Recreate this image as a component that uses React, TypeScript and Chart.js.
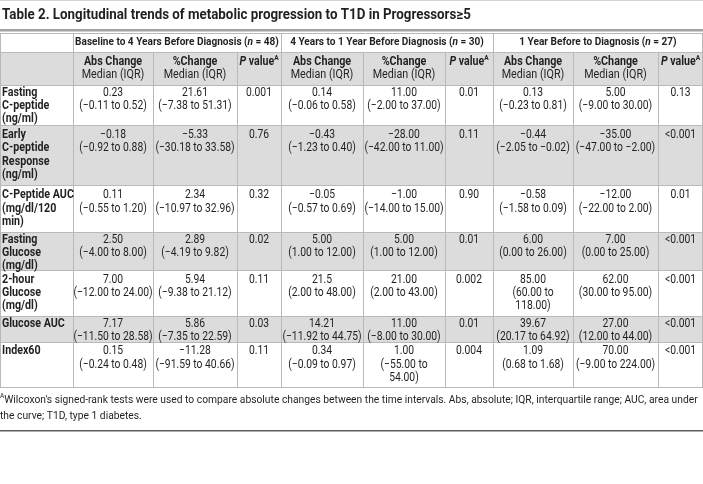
import React, { useEffect, useRef } from "react";
import { Chart, registerables } from "chart.js";

Chart.register(...registerables);

// ---------------- data ----------------
const TITLE = "Table 2. Longitudinal trends of metabolic progression to T1D in Progressors≥5";
const GROUP_TITLES = [
  "Baseline to 4 Years Before Diagnosis",
  "4 Years to 1 Year Before Diagnosis",
  "1 Year Before to Diagnosis",
];
const GROUP_N = [48, 30, 27];
const SUB_HEADERS = ["Abs Change", "%Change", "P value"];
const SUB_NOTE = "Median (IQR)";
const ROW_LABELS = [
  ["Fasting", "C-peptide", "(ng/ml)"],
  ["Early", "C-peptide", "Response", "(ng/ml)"],
  ["C-Peptide AUC", "(mg/dl/120", "min)"],
  ["Fasting", "Glucose", "(mg/dl)"],
  ["2-hour", "Glucose", "(mg/dl)"],
  ["Glucose AUC"],
  ["Index60"],
];

// Baseline to 4 years before diagnosis
const ABS_MED_1 = ["0.23", "-0.18", "0.11", "2.50", "7.00", "7.17", "0.15"];
const ABS_LO_1 = ["-0.11", "-0.92", "-0.55", "-4.00", "-12.00", "-11.50", "-0.24"];
const ABS_HI_1 = ["0.52", "0.88", "1.20", "8.00", "24.00", "28.58", "0.48"];
const PCT_MED_1 = ["21.61", "-5.33", "2.34", "2.89", "5.94", "5.86", "-11.28"];
const PCT_LO_1 = ["-7.38", "-30.18", "-10.97", "-4.19", "-9.38", "-7.35", "-91.59"];
const PCT_HI_1 = ["51.31", "33.58", "32.96", "9.82", "21.12", "22.59", "40.66"];
const P_1 = ["0.001", "0.76", "0.32", "0.02", "0.11", "0.03", "0.11"];

// 4 years to 1 year before diagnosis
const ABS_MED_2 = ["0.14", "-0.43", "-0.05", "5.00", "21.5", "14.21", "0.34"];
const ABS_LO_2 = ["-0.06", "-1.23", "-0.57", "1.00", "2.00", "-11.92", "-0.09"];
const ABS_HI_2 = ["0.58", "0.40", "0.69", "12.00", "48.00", "44.75", "0.97"];
const PCT_MED_2 = ["11.00", "-28.00", "-1.00", "5.00", "21.00", "11.00", "1.00"];
const PCT_LO_2 = ["-2.00", "-42.00", "-14.00", "1.00", "2.00", "-8.00", "-55.00"];
const PCT_HI_2 = ["37.00", "11.00", "15.00", "12.00", "43.00", "30.00", "54.00"];
const P_2 = ["0.01", "0.11", "0.90", "0.01", "0.002", "0.01", "0.004"];

// 1 year before to diagnosis
const ABS_MED_3 = ["0.13", "-0.44", "-0.58", "6.00", "85.00", "39.67", "1.09"];
const ABS_LO_3 = ["-0.23", "-2.05", "-1.58", "0.00", "60.00", "20.17", "0.68"];
const ABS_HI_3 = ["0.81", "-0.02", "0.09", "26.00", "118.00", "64.92", "1.68"];
const PCT_MED_3 = ["5.00", "-35.00", "-12.00", "7.00", "62.00", "27.00", "70.00"];
const PCT_LO_3 = ["-9.00", "-47.00", "-22.00", "0.00", "30.00", "12.00", "-9.00"];
const PCT_HI_3 = ["30.00", "-2.00", "2.00", "25.00", "95.00", "44.00", "224.00"];
const P_3 = ["0.13", "<0.001", "0.01", "<0.001", "<0.001", "<0.001", "<0.001"];

const FOOTNOTE_MARK = "A";
const FOOTNOTE_LINES = [
  "Wilcoxon's signed-rank tests were used to compare absolute changes between the time intervals. Abs, absolute; IQR, interquartile range; AUC, area under",
  "the curve; T1D, type 1 diabetes.",
];

// ---------------- layout ----------------
const W = 703;
const H = 484;
const COL_W = [73, 80, 84, 44, 82, 82, 48, 80, 85, 45];
const ROW_H = [19, 33, 40, 60, 47, 38, 46, 26, 45];
const TABLE_TOP = 33;
const LINE_H = 13.3;
const WRAPPED = [
  [4, 6],
  [6, 4],
];
const FONT = "Roboto";

type Seg = { t: string; bold?: boolean; italic?: boolean; sup?: boolean };

function fontOf(size: number, s: Seg) {
  const sz = s.sup ? size * 0.62 : size;
  return `${s.italic ? "italic " : ""}${s.bold ? "bold " : ""}${sz}px ${FONT}`;
}

function richWidth(ctx: CanvasRenderingContext2D, segs: Seg[], size: number, sx: number) {
  let w = 0;
  for (const s of segs) {
    ctx.font = fontOf(size, s);
    w += ctx.measureText(s.t).width * sx;
  }
  return w;
}

function drawRich(
  ctx: CanvasRenderingContext2D,
  segs: Seg[],
  x: number,
  y: number,
  size: number,
  sx: number,
  align: "left" | "center",
  color: string
) {
  const total = richWidth(ctx, segs, size, sx);
  let cx = align === "center" ? x - total / 2 : x;
  for (const s of segs) {
    ctx.font = fontOf(size, s);
    const w = ctx.measureText(s.t).width * sx;
    ctx.save();
    ctx.translate(cx, y + (s.sup ? -size * 0.32 : 0));
    ctx.scale(sx, 1);
    ctx.fillStyle = color;
    ctx.textAlign = "left";
    ctx.textBaseline = "middle";
    ctx.fillText(s.t, 0, 0);
    ctx.restore();
    cx += w;
  }
}

const fmt = (v: string) => v.replace(/-/g, "\u2212");

function cellLines(row: number, dataCol: number): string[] {
  const g = Math.floor(dataCol / 3);
  const k = dataCol % 3;
  const sets = [
    [ABS_MED_1, ABS_LO_1, ABS_HI_1, PCT_MED_1, PCT_LO_1, PCT_HI_1, P_1],
    [ABS_MED_2, ABS_LO_2, ABS_HI_2, PCT_MED_2, PCT_LO_2, PCT_HI_2, P_2],
    [ABS_MED_3, ABS_LO_3, ABS_HI_3, PCT_MED_3, PCT_LO_3, PCT_HI_3, P_3],
  ][g];
  if (k === 2) return [sets[6][row]];
  const med = sets[k * 3][row];
  const lo = sets[k * 3 + 1][row];
  const hi = sets[k * 3 + 2][row];
  const wrap = WRAPPED.some((c) => c[0] === row && c[1] === dataCol);
  if (wrap) return [fmt(med), `(${fmt(lo)} to`, `${fmt(hi)})`];
  return [fmt(med), `(${fmt(lo)} to ${fmt(hi)})`];
}

const tablePlugin = {
  id: "tableDraw",
  beforeDraw(chart: any) {
    const ctx: CanvasRenderingContext2D = chart.ctx;
    ctx.save();
    ctx.fillStyle = "#ffffff";
    ctx.fillRect(0, 0, chart.width, chart.height);
    ctx.restore();
  },
  afterDraw(chart: any) {
    const ctx: CanvasRenderingContext2D = chart.ctx;
    const xs = chart.scales.x;
    const ys = chart.scales.y;
    const X = (v: number) => xs.getPixelForValue(v);
    const Y = (v: number) => ys.getPixelForValue(v);

    const colEdges = [0];
    COL_W.forEach((w) => colEdges.push(colEdges[colEdges.length - 1] + w));
    const rowEdges = [TABLE_TOP];
    ROW_H.forEach((h) => rowEdges.push(rowEdges[rowEdges.length - 1] + h));
    const tableBottom = rowEdges[rowEdges.length - 1];
    const text = "#231f20";

    ctx.save();
    // faint top line
    ctx.fillStyle = "#d4d4d4";
    ctx.fillRect(X(0), Y(0), X(W) - X(0), 1);

    // title
    drawRich(ctx, [{ t: TITLE, bold: true }], X(2), Y(15.5), 14.5, 0.92, "left", text);

    // thick rule
    ctx.fillStyle = "#a3a3a3";
    ctx.fillRect(X(0), Y(29), X(W) - X(0), 2.5);

    // row fills
    const rowLines = [1, 2];
    for (let r = 0; r < ROW_LABELS.length; r++) {
      let n = ROW_LABELS[r].length;
      for (let c = 0; c < 9; c++) n = Math.max(n, cellLines(r, c).length);
      rowLines.push(n);
    }
    for (let r = 0; r < ROW_H.length; r++) {
      if (r % 2 === 1) {
        ctx.fillStyle = "#dcdcdc";
        ctx.fillRect(X(0), Y(rowEdges[r]), X(W) - X(0), Y(rowEdges[r + 1]) - Y(rowEdges[r]));
      }
    }

    // grid lines
    ctx.strokeStyle = "#b9b9b9";
    ctx.lineWidth = 1;
    ctx.beginPath();
    for (let r = 0; r < rowEdges.length; r++) {
      const y = Math.round(Y(rowEdges[r])) + 0.5;
      ctx.moveTo(X(0), y);
      ctx.lineTo(X(W), y);
    }
    for (let c = 0; c < colEdges.length; c++) {
      const x = c === colEdges.length - 1 ? Math.round(X(colEdges[c])) - 0.5 : Math.round(X(colEdges[c])) + 0.5;
      const isGroup = c === 0 || c === 1 || c === 4 || c === 7 || c === 10;
      const y0 = isGroup ? Y(rowEdges[0]) : Y(rowEdges[1]);
      ctx.moveTo(x, y0);
      ctx.lineTo(x, Y(tableBottom));
    }
    ctx.stroke();

    const firstLineY = (r: number) => {
      const n = rowLines[r];
      const pad = Math.max(1, Math.min(4, (ROW_H[r] - n * LINE_H) / 2));
      return rowEdges[r] + pad + LINE_H / 2;
    };

    // group headers
    for (let g = 0; g < 3; g++) {
      const x0 = colEdges[1 + g * 3];
      const x1 = colEdges[4 + g * 3];
      drawRich(
        ctx,
        [
          { t: GROUP_TITLES[g] + " (", bold: true },
          { t: "n", bold: true, italic: true },
          { t: ` = ${GROUP_N[g]})`, bold: true },
        ],
        X((x0 + x1) / 2),
        Y(firstLineY(0)),
        11.5,
        0.875,
        "center",
        text
      );
    }

    // sub headers
    for (let c = 0; c < 9; c++) {
      const k = c % 3;
      const x0 = colEdges[1 + c];
      const x1 = colEdges[2 + c];
      const cx = X((x0 + x1) / 2);
      const y1 = firstLineY(1);
      if (k === 2) {
        drawRich(
          ctx,
          [
            { t: "P", bold: true, italic: true },
            { t: " value", bold: true },
            { t: FOOTNOTE_MARK, bold: true, sup: true },
          ],
          cx,
          Y(y1),
          12.5,
          0.85,
          "center",
          text
        );
      } else {
        drawRich(ctx, [{ t: SUB_HEADERS[k], bold: true }], cx, Y(y1), 12.5, 0.86, "center", text);
        drawRich(ctx, [{ t: SUB_NOTE }], cx, Y(y1 + LINE_H), 12.5, 0.86, "center", text);
      }
    }

    // body rows
    for (let r = 0; r < ROW_LABELS.length; r++) {
      const rr = r + 2;
      const y1 = firstLineY(rr);
      ROW_LABELS[r].forEach((ln, i) => {
        drawRich(ctx, [{ t: ln, bold: true }], X(2), Y(y1 + i * LINE_H), 12.3, 0.87, "left", text);
      });
      for (let c = 0; c < 9; c++) {
        const x0 = colEdges[1 + c];
        const x1 = colEdges[2 + c];
        cellLines(r, c).forEach((ln, i) => {
          drawRich(ctx, [{ t: ln }], X((x0 + x1) / 2), Y(y1 + i * LINE_H), 12.3, 0.84, "center", text);
        });
      }
    }

    // footnote
    drawRich(
      ctx,
      [{ t: FOOTNOTE_MARK, sup: true }, { t: FOOTNOTE_LINES[0] }],
      X(0),
      Y(400),
      11.7,
      0.88,
      "left",
      text
    );
    drawRich(ctx, [{ t: FOOTNOTE_LINES[1] }], X(0), Y(416), 11.7, 0.88, "left", text);

    // bottom rule
    ctx.fillStyle = "#5e5e5e";
    ctx.fillRect(X(0), Y(430), X(W) - X(0), 1.5);
    ctx.restore();
  },
};

export default function App() {
  const ref = useRef<HTMLCanvasElement | null>(null);
  useEffect(() => {
    if (!ref.current) return;
    const chart = new Chart(ref.current, {
      type: "scatter",
      data: { datasets: [] },
      options: {
        animation: false,
        responsive: false,
        devicePixelRatio: 1,
        layout: { padding: 0 },
        plugins: { legend: { display: false }, tooltip: { enabled: false }, title: { display: false } },
        scales: {
          x: { type: "linear", min: 0, max: W, display: false },
          y: { type: "linear", min: 0, max: H, reverse: true, display: false },
        },
      },
      plugins: [tablePlugin],
    });
    return () => chart.destroy();
  }, []);
  return (
    <div style={{ position: "absolute", left: 0, top: 0, width: W, height: H, background: "#fff" }}>
      <canvas ref={ref} width={W} height={H} style={{ display: "block" }} />
    </div>
  );
}
